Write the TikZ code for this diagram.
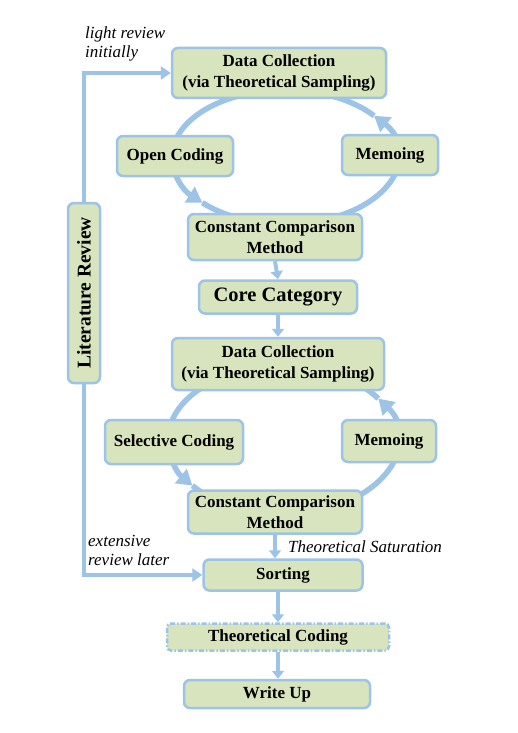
\documentclass[tikz,border=0pt]{standalone}
\usepackage{fontspec}
\setmainfont{Liberation Serif}
\usetikzlibrary{arrows.meta,backgrounds}
\definecolor{lb}{HTML}{9DC3E6}
\definecolor{lg}{HTML}{D7E4BD}
\begin{document}
\begin{tikzpicture}[x=1pt,y=1pt,
 box/.style={draw=lb, line width=2.5pt, fill=lg, rounded corners=6pt, font=\fontsize{17}{20.5}\selectfont\bfseries, align=center, inner sep=0pt},
 lbl/.style={font=\fontsize{17}{19}\selectfont\itshape, align=left, inner sep=0pt, anchor=north west},
 flow/.style={draw=lb, line width=4pt, -{Triangle[length=8pt,width=12pt]}},
 loopline/.style={draw=lb, line width=5.5pt},
 loophead/.style={-{Triangle[length=15pt,width=18pt]}},
 litline/.style={draw=lb, line width=4.5pt, -{Triangle[length=10pt,width=13pt]}},
]
\useasboundingbox (0,0) rectangle (518,-733);
\node[box, minimum width=214, minimum height=50] (dc1) at (279,-73) {Data Collection\\(via Theoretical Sampling)};
\node[box, minimum width=116, minimum height=40] (oc) at (175,-156) {Open Coding};
\node[box, minimum width=96, minimum height=40] (memo1) at (390,-155) {Memoing};
\node[box, minimum width=174, minimum height=46] (ccm1) at (275,-237) {Constant Comparison\\Method};
\node[box, minimum width=158, minimum height=33, font=\fontsize{20.5}{24}\selectfont\bfseries] (core) at (278,-297) {Core Category};
\node[box, minimum width=212, minimum height=52] (dc2) at (278,-364) {Data Collection\\(via Theoretical Sampling)};
\node[box, minimum width=138, minimum height=44] (sc) at (174,-442) {Selective Coding};
\node[box, minimum width=94, minimum height=42] (memo2) at (389,-441) {Memoing};
\node[box, minimum width=174, minimum height=43] (ccm2) at (275,-512) {Constant Comparison\\Method};
\node[box, minimum width=159, minimum height=31] (sort) at (283,-575) {Sorting};
\node[box, minimum width=222, minimum height=27, dash pattern=on 5pt off 2pt on 1.5pt off 2pt, rounded corners=4pt] (tc) at (278,-637) {Theoretical Coding};
\node[box, minimum width=186, minimum height=28] (wu) at (277,-694) {Write Up};
\node[box, rotate=90, minimum width=180, minimum height=32, font=\fontsize{19.5}{23}\selectfont\bfseries] (lit) at (84,-293) {Literature Review};

\node[lbl] (l1) at (85,-27) {light review\\initially};
\node[lbl] (l2) at (88,-535) {extensive\\review later};
\node[lbl] (l3) at (288,-540) {Theoretical Saturation};

\begin{scope}[on background layer]
\coordinate (c1) at (285,-157);
\draw[loopline,loophead] (c1) ++(90:113 and 67) arc[start angle=90,end angle=223,x radius=113,y radius=67];
\draw[loopline,loophead] (c1) ++(223:113 and 67) arc[start angle=223,end angle=398,x radius=113,y radius=67];
\draw[loopline] (c1) ++(38:113 and 67) arc[start angle=38,end angle=90,x radius=113,y radius=67];
\coordinate (c2) at (283,-440);
\draw[loopline,loophead] (c2) ++(90:115 and 74) arc[start angle=90,end angle=218,x radius=115,y radius=74];
\draw[loopline,loophead] (c2) ++(218:115 and 74) arc[start angle=218,end angle=394,x radius=115,y radius=74];
\draw[loopline] (c2) ++(34:115 and 74) arc[start angle=34,end angle=90,x radius=115,y radius=74];
\end{scope}

\draw[flow] (ccm1.south) -- (core.north);
\draw[flow] (core.south) -- (dc2.north);
\draw[flow] (ccm2.south) -- (ccm2.south |- sort.north);
\draw[flow] (sort.south -| tc.north) -- (tc.north);
\draw[flow] (tc.south) -- (tc.south |- wu.north);
\draw[litline] (lit.east) |- (dc1.west);
\draw[litline] (lit.west) |- (sort.west);
\end{tikzpicture}
\end{document}
